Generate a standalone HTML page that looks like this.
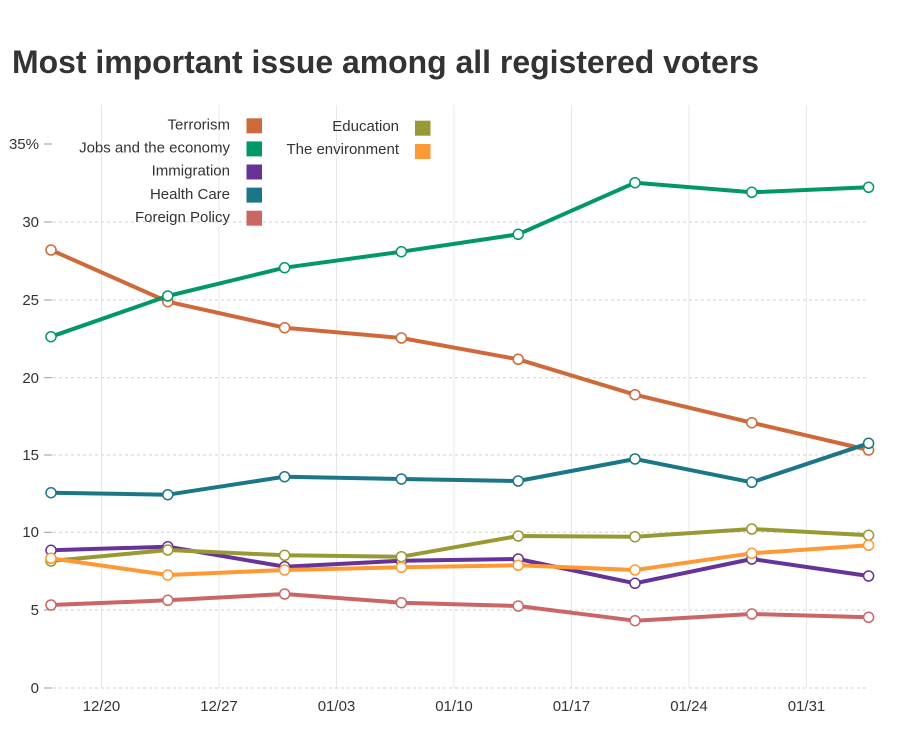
<!DOCTYPE html>
<html>
<head>
<meta charset="utf-8">
<style>
  html, body { margin: 0; padding: 0; background: #ffffff; }
  body { width: 900px; height: 730px; overflow: hidden; }
  svg { display: block; font-family: "Liberation Sans", Arial, sans-serif; }
</style>
</head>
<body>
<svg width="900" height="730" viewBox="0 0 900 730" xmlns="http://www.w3.org/2000/svg">
  <!-- Title -->
  <text x="12" y="73" font-size="32" font-weight="bold" fill="#333333" textLength="747" lengthAdjust="spacingAndGlyphs">Most important issue among all registered voters</text>

  <!-- vertical gridlines -->
  <g stroke="#e8e8e8" stroke-width="1">
    <line x1="101.5" y1="105" x2="101.5" y2="688"/>
    <line x1="219" y1="105" x2="219" y2="688"/>
    <line x1="336.5" y1="105" x2="336.5" y2="688"/>
    <line x1="454" y1="105" x2="454" y2="688"/>
    <line x1="571.5" y1="105" x2="571.5" y2="688"/>
    <line x1="689" y1="105" x2="689" y2="688"/>
    <line x1="806.5" y1="105" x2="806.5" y2="688"/>
  </g>

  <!-- horizontal gridlines -->
  <g stroke="#d0d0d0" stroke-width="1" stroke-dasharray="3,3">
    <line x1="53" y1="222" x2="869" y2="222"/>
    <line x1="53" y1="300" x2="869" y2="300"/>
    <line x1="53" y1="377.7" x2="869" y2="377.7"/>
    <line x1="53" y1="455" x2="869" y2="455"/>
    <line x1="53" y1="532.3" x2="869" y2="532.3"/>
    <line x1="53" y1="610" x2="869" y2="610"/>
    <line x1="53" y1="688" x2="869" y2="688"/>
  </g>

  <!-- y tick dashes -->
  <g stroke="#999999" stroke-width="1">
    <line x1="44" y1="144" x2="52" y2="144"/>
    <line x1="44" y1="222" x2="52" y2="222"/>
    <line x1="44" y1="300" x2="52" y2="300"/>
    <line x1="44" y1="377.7" x2="52" y2="377.7"/>
    <line x1="44" y1="455" x2="52" y2="455"/>
    <line x1="44" y1="532.3" x2="52" y2="532.3"/>
    <line x1="44" y1="610" x2="52" y2="610"/>
    <line x1="44" y1="688" x2="52" y2="688"/>
  </g>

  <!-- y labels -->
  <g font-size="15" fill="#333333" text-anchor="end">
    <text x="39" y="149">35%</text>
    <text x="39" y="227">30</text>
    <text x="39" y="305">25</text>
    <text x="39" y="383">20</text>
    <text x="39" y="460">15</text>
    <text x="39" y="537">10</text>
    <text x="39" y="615">5</text>
    <text x="39" y="693">0</text>
  </g>

  <!-- x labels -->
  <g font-size="15" fill="#333333" text-anchor="middle">
    <text x="101.5" y="711">12/20</text>
    <text x="219" y="711">12/27</text>
    <text x="336.5" y="711">01/03</text>
    <text x="454" y="711">01/10</text>
    <text x="571.5" y="711">01/17</text>
    <text x="689" y="711">01/24</text>
    <text x="806.5" y="711">01/31</text>
  </g>

  <!-- Legend -->
  <g font-size="15" fill="#333333" text-anchor="end">
    <text x="230" y="129.5">Terrorism</text>
    <text x="230" y="152.6">Jobs and the economy</text>
    <text x="230" y="175.7">Immigration</text>
    <text x="230" y="198.8">Health Care</text>
    <text x="230" y="221.9">Foreign Policy</text>
    <text x="399" y="131">Education</text>
    <text x="399" y="154">The environment</text>
  </g>
  <rect x="246.5" y="118.3" width="15.5" height="15" fill="#d0693a"/>
  <rect x="246.5" y="141.4" width="15.5" height="15" fill="#009966"/>
  <rect x="246.5" y="164.5" width="15.5" height="15" fill="#663399"/>
  <rect x="246.5" y="187.6" width="15.5" height="15" fill="#1b7688"/>
  <rect x="246.5" y="210.7" width="15.5" height="15" fill="#cc6666"/>
  <rect x="415" y="120.7" width="15.5" height="15" fill="#999933"/>
  <rect x="415" y="144" width="15.5" height="15" fill="#ff9933"/>

  <!-- Series -->
  <g fill="none" stroke-width="4" stroke-linejoin="round" stroke-linecap="round">
    <!-- Terrorism -->
    <polyline stroke="#d0693a" points="51,250 167.8,301.7 284.6,327.7 401.4,338 518.2,359.3 635,394.7 751.8,422.7 868.6,450"/>
  </g>
  <g fill="#ffffff" stroke="#d0693a" stroke-width="1.5">
    <circle cx="51" cy="250" r="5"/><circle cx="167.8" cy="301.7" r="5"/><circle cx="284.6" cy="327.7" r="5"/><circle cx="401.4" cy="338" r="5"/><circle cx="518.2" cy="359.3" r="5"/><circle cx="635" cy="394.7" r="5"/><circle cx="751.8" cy="422.7" r="5"/><circle cx="868.6" cy="450" r="5"/>
  </g>

  <!-- Jobs -->
  <polyline fill="none" stroke="#009966" stroke-width="4" stroke-linejoin="round" points="51,336.7 167.8,296 284.6,267.7 401.4,251.7 518.2,234.3 635,182.7 751.8,192.3 868.6,187.3"/>
  <g fill="#ffffff" stroke="#009966" stroke-width="1.5">
    <circle cx="51" cy="336.7" r="5"/><circle cx="167.8" cy="296" r="5"/><circle cx="284.6" cy="267.7" r="5"/><circle cx="401.4" cy="251.7" r="5"/><circle cx="518.2" cy="234.3" r="5"/><circle cx="635" cy="182.7" r="5"/><circle cx="751.8" cy="192.3" r="5"/><circle cx="868.6" cy="187.3" r="5"/>
  </g>

  <!-- Immigration -->
  <polyline fill="none" stroke="#663399" stroke-width="4" stroke-linejoin="round" points="51,550.3 167.8,546.7 284.6,566.7 401.4,560.7 518.2,559 635,583.3 751.8,559 868.6,576"/>
  <g fill="#ffffff" stroke="#663399" stroke-width="1.5">
    <circle cx="51" cy="550.3" r="5"/><circle cx="167.8" cy="546.7" r="5"/><circle cx="284.6" cy="566.7" r="5"/><circle cx="401.4" cy="560.7" r="5"/><circle cx="518.2" cy="559" r="5"/><circle cx="635" cy="583.3" r="5"/><circle cx="751.8" cy="559" r="5"/><circle cx="868.6" cy="576" r="5"/>
  </g>

  <!-- Health Care -->
  <polyline fill="none" stroke="#1b7688" stroke-width="4" stroke-linejoin="round" points="51,492.7 167.8,494.7 284.6,476.7 401.4,479 518.2,481 635,459 751.8,482.3 868.6,443.3"/>
  <g fill="#ffffff" stroke="#1b7688" stroke-width="1.5">
    <circle cx="51" cy="492.7" r="5"/><circle cx="167.8" cy="494.7" r="5"/><circle cx="284.6" cy="476.7" r="5"/><circle cx="401.4" cy="479" r="5"/><circle cx="518.2" cy="481" r="5"/><circle cx="635" cy="459" r="5"/><circle cx="751.8" cy="482.3" r="5"/><circle cx="868.6" cy="443.3" r="5"/>
  </g>

  <!-- Foreign Policy -->
  <polyline fill="none" stroke="#cc6666" stroke-width="4" stroke-linejoin="round" points="51,605 167.8,600.3 284.6,594 401.4,602.7 518.2,606 635,620.7 751.8,614 868.6,617.3"/>
  <g fill="#ffffff" stroke="#cc6666" stroke-width="1.5">
    <circle cx="51" cy="605" r="5"/><circle cx="167.8" cy="600.3" r="5"/><circle cx="284.6" cy="594" r="5"/><circle cx="401.4" cy="602.7" r="5"/><circle cx="518.2" cy="606" r="5"/><circle cx="635" cy="620.7" r="5"/><circle cx="751.8" cy="614" r="5"/><circle cx="868.6" cy="617.3" r="5"/>
  </g>

  <!-- Education -->
  <polyline fill="none" stroke="#999933" stroke-width="4" stroke-linejoin="round" points="51,561 167.8,550 284.6,555.3 401.4,556.7 518.2,536 635,536.7 751.8,529 868.6,535.3"/>
  <g fill="#ffffff" stroke="#999933" stroke-width="1.5">
    <circle cx="51" cy="561" r="5"/><circle cx="167.8" cy="550" r="5"/><circle cx="284.6" cy="555.3" r="5"/><circle cx="401.4" cy="556.7" r="5"/><circle cx="518.2" cy="536" r="5"/><circle cx="635" cy="536.7" r="5"/><circle cx="751.8" cy="529" r="5"/><circle cx="868.6" cy="535.3" r="5"/>
  </g>

  <!-- The environment -->
  <polyline fill="none" stroke="#ff9933" stroke-width="4" stroke-linejoin="round" points="51,558.3 167.8,575 284.6,570 401.4,567.3 518.2,565.3 635,570 751.8,553.3 868.6,545.3"/>
  <g fill="#ffffff" stroke="#ff9933" stroke-width="1.5">
    <circle cx="51" cy="558.3" r="5"/><circle cx="167.8" cy="575" r="5"/><circle cx="284.6" cy="570" r="5"/><circle cx="401.4" cy="567.3" r="5"/><circle cx="518.2" cy="565.3" r="5"/><circle cx="635" cy="570" r="5"/><circle cx="751.8" cy="553.3" r="5"/><circle cx="868.6" cy="545.3" r="5"/>
  </g>
</svg>
</body>
</html>
